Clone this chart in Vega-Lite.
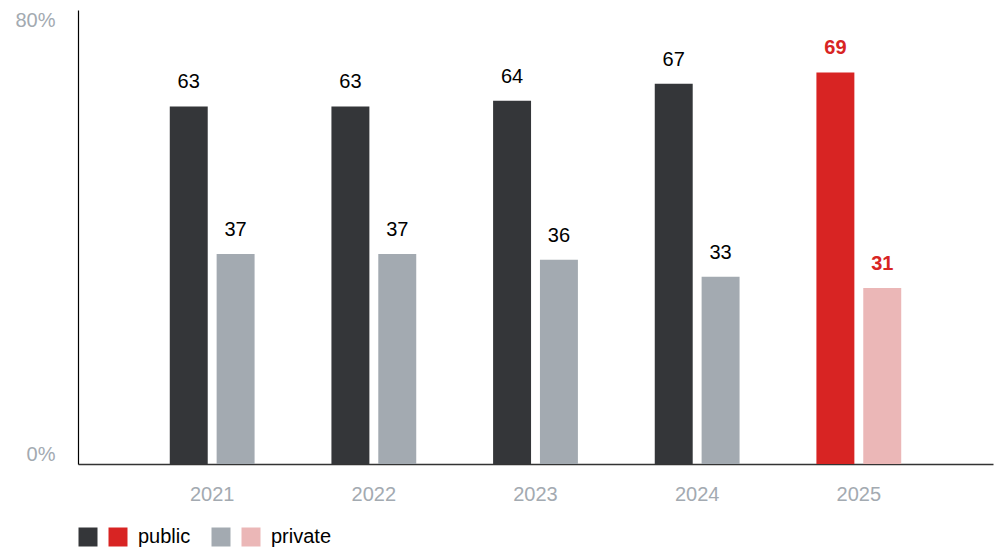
{
  "$schema": "https://vega.github.io/schema/vega-lite/v6.json",
  "width": 915,
  "height": 454,
  "autosize": {"type": "pad"},
  "padding": {"left": 14, "top": 10, "right": 4, "bottom": 5},
  "config": {
    "view": {"stroke": null},
    "font": "Liberation Sans",
    "axis": {"grid": false},
    "legend": {
      "title": null,
      "orient": "bottom",
      "direction": "horizontal",
      "offset": 23,
      "symbolType": "square",
      "symbolSize": 361,
      "symbolStrokeWidth": 0,
      "symbolOpacity": 1,
      "labelFontSize": 20,
      "labelColor": "#000000",
      "labelOffset": 10,
      "columnPadding": 0,
      "layout": {"bottom": {"anchor": "start", "direction": "horizontal", "margin": 20}}
    }
  },
  "data": {
    "values": [
      {"year": "2021", "series": "public", "group": "public", "value": 63},
      {"year": "2021", "series": "private", "group": "private", "value": 37},
      {"year": "2022", "series": "public", "group": "public", "value": 63},
      {"year": "2022", "series": "private", "group": "private", "value": 37},
      {"year": "2023", "series": "public", "group": "public", "value": 64},
      {"year": "2023", "series": "private", "group": "private", "value": 36},
      {"year": "2024", "series": "public", "group": "public", "value": 67},
      {"year": "2024", "series": "private", "group": "private", "value": 33},
      {"year": "2025", "series": "public", "group": "public 2025", "value": 69},
      {"year": "2025", "series": "private", "group": "private 2025", "value": 31}
    ]
  },
  "encoding": {
    "x": {
      "field": "year",
      "type": "nominal",
      "scale": {"paddingInner": 0, "paddingOuter": 0.33},
      "axis": {
        "title": null,
        "labelAngle": 0,
        "labelFontSize": 20,
        "labelColor": "#a3aab1",
        "ticks": false,
        "labelPadding": 20,
        "domainColor": "#333333",
        "domainWidth": 1.3
      }
    },
    "xOffset": {
      "field": "series",
      "type": "nominal",
      "sort": ["public", "private"],
      "scale": {"paddingInner": 0.19, "paddingOuter": 0.82}
    },
    "y": {
      "field": "value",
      "type": "quantitative",
      "scale": {"domain": [0, 80]},
      "axis": {
        "title": null,
        "values": [0, 80],
        "labelExpr": "datum.value + '%'",
        "labelFlush": true,
        "ticks": false,
        "labelFontSize": 20,
        "labelColor": "#a3aab1",
        "labelPadding": 23,
        "domainColor": "#000000",
        "domainWidth": 1.2
      }
    }
  },
  "layer": [
    {
      "transform": [{"filter": "datum.series == 'public'"}],
      "mark": {"type": "bar"},
      "encoding": {
        "color": {
          "field": "group",
          "type": "nominal",
          "scale": {
            "domain": ["public", "public 2025"],
            "range": ["#343639", "#d82423"]
          },
          "legend": {
            "columns": 2,
            "labelExpr": "datum.label == 'public 2025' ? 'public' : ''"
          }
        }
      }
    },
    {
      "transform": [{"filter": "datum.series == 'private'"}],
      "mark": {"type": "bar"},
      "encoding": {
        "fill": {
          "field": "group",
          "type": "nominal",
          "scale": {
            "domain": ["private", "private 2025"],
            "range": ["#a3aab1", "#ebb7b7"]
          },
          "legend": {
            "columns": 2,
            "labelExpr": "datum.label == 'private 2025' ? 'private' : ''"
          }
        }
      }
    },
    {
      "transform": [{"filter": "datum.year != '2025'"}],
      "mark": {"type": "text", "fontSize": 20, "baseline": "alphabetic", "dy": -18, "color": "#000000"},
      "encoding": {"text": {"field": "value", "type": "quantitative"}}
    },
    {
      "transform": [{"filter": "datum.year == '2025'"}],
      "mark": {"type": "text", "fontSize": 20, "fontWeight": "bold", "baseline": "alphabetic", "dy": -18, "color": "#d82423"},
      "encoding": {"text": {"field": "value", "type": "quantitative"}}
    }
  ]
}
